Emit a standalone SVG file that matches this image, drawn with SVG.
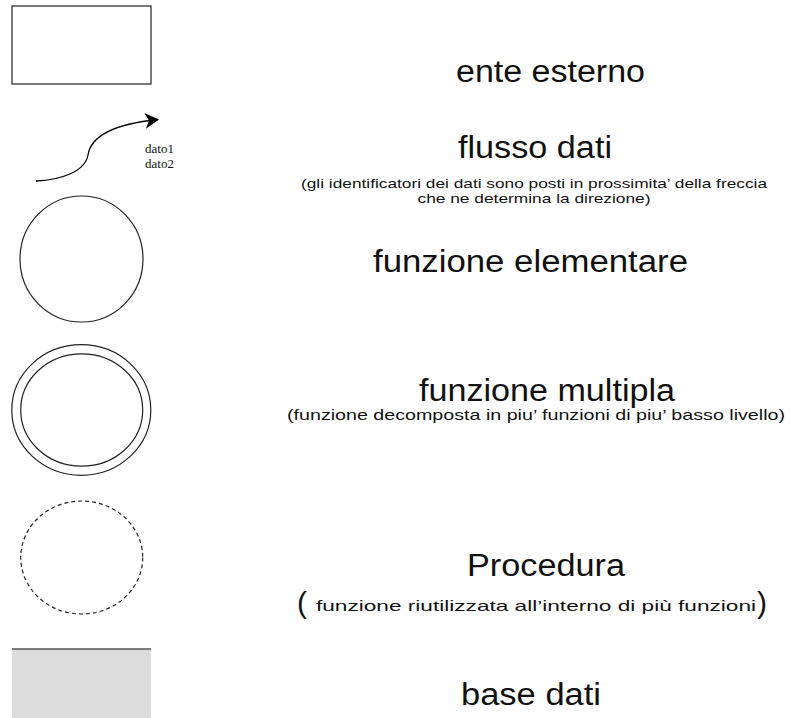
<svg xmlns="http://www.w3.org/2000/svg" width="807" height="718" viewBox="0 0 807 718">
<style>
.sh{fill:#fff;stroke:#222;stroke-width:1.2}
.t{font-family:"Liberation Sans",Arial,sans-serif;fill:#111}
.big{font-size:31px}
.sm{font-size:15px}
.xs{font-size:13.5px}
.ser{font-family:"Liberation Serif","Times New Roman",serif;font-size:13px;fill:#111}
</style>
<defs>
<marker id="ah" viewBox="0 0 14 16" refX="13" refY="8" markerWidth="14" markerHeight="16" markerUnits="userSpaceOnUse" orient="auto">
<path d="M0,0 L14,8 L0,16 L4,8 Z" fill="#000"/>
</marker>
</defs>
<rect width="807" height="718" fill="#fff"/>
<g id="ente-esterno">
<rect class="sh" x="12" y="6" width="139" height="78"/>
<text class="t big" x="456" y="82" textLength="189" lengthAdjust="spacingAndGlyphs">ente esterno</text>
</g>
<g id="connectors">
<path d="M36,181 C60,180 85,172 88,155 C91,135 115,124 158,119.5" fill="none" stroke="#000" stroke-width="1.3" marker-end="url(#ah)"/>
</g>
<g id="flusso-dati">
<text class="ser" x="145" y="153">dato1</text>
<text class="ser" x="145" y="168">dato2</text>
<text class="t big" x="458" y="158" textLength="154" lengthAdjust="spacingAndGlyphs">flusso dati</text>
<text class="t xs" x="534" y="188" text-anchor="middle" textLength="466" lengthAdjust="spacingAndGlyphs">(gli identificatori dei dati sono posti in prossimita’ della freccia</text>
<text class="t xs" x="534" y="203" text-anchor="middle" textLength="233" lengthAdjust="spacingAndGlyphs">che ne determina la direzione)</text>
</g>
<g id="funzione-elementare">
<ellipse class="sh" cx="81.5" cy="259" rx="61.5" ry="63"/>
<text class="t big" x="373" y="272" textLength="315" lengthAdjust="spacingAndGlyphs">funzione elementare</text>
</g>
<g id="funzione-multipla">
<ellipse class="sh" cx="81.3" cy="410" rx="69.5" ry="65.3"/>
<ellipse class="sh" cx="81.7" cy="410" rx="61" ry="56.2"/>
<text class="t big" x="419" y="401" textLength="256" lengthAdjust="spacingAndGlyphs">funzione multipla</text>
<text class="t sm" x="536" y="420" text-anchor="middle" textLength="498" lengthAdjust="spacingAndGlyphs">(funzione decomposta in piu’ funzioni di piu’ basso livello)</text>
</g>
<g id="procedura">
<ellipse class="sh" cx="81.7" cy="557.5" rx="61" ry="56.5" stroke-dasharray="4,3"/>
<text class="t big" x="467" y="576" textLength="158" lengthAdjust="spacingAndGlyphs">Procedura</text>
<text class="t" style="font-size:30px" x="297" y="613">(</text>
<text class="t sm" x="316" y="611" textLength="440" lengthAdjust="spacingAndGlyphs">funzione riutilizzata all’interno di più funzioni</text>
<text class="t" style="font-size:30px" x="757" y="613">)</text>
</g>
<g id="base-dati">
<rect x="12" y="649" width="139" height="69" fill="#dcdcdc"/>
<line x1="12" y1="649" x2="151" y2="649" stroke="#555" stroke-width="1.5"/>
<text class="t big" x="461" y="705" textLength="140" lengthAdjust="spacingAndGlyphs">base dati</text>
</g>
</svg>
